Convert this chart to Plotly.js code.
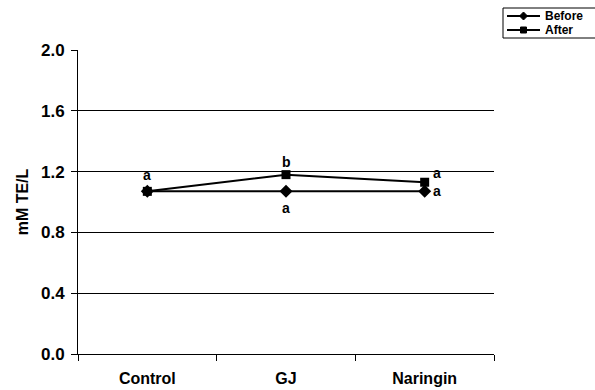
<!DOCTYPE html>
<html>
<head>
<meta charset="utf-8">
<script src="https://cdn.plot.ly/plotly-3.0.1.min.js"></script>
<style>html,body{margin:0;padding:0;background:#fff;}#chart{width:595px;height:390px;}</style>
</head>
<body>
<div id="chart"></div>
<script>
const categories = ["Control", "GJ", "Naringin"];
const seriesNames = ["Before", "After"];
const beforeValues = [1.07, 1.07, 1.07];
const afterValues = [1.07, 1.18, 1.13];
const yTicks = [0, 0.4, 0.8, 1.2, 1.6, 2.0];
const yTickLabels = ["0.0", "0.4", "0.8", "1.2", "1.6", "2.0"];
const letterLabels = [
  {cat: "Control", y: 1.07, text: "a", pos: "above"},
  {cat: "GJ", y: 1.18, text: "b", pos: "above"},
  {cat: "GJ", y: 1.07, text: "a", pos: "below"},
  {cat: "Naringin", y: 1.13, text: "a", pos: "rightup"},
  {cat: "Naringin", y: 1.07, text: "a", pos: "right"}
];

const FAM = "Liberation Sans, Arial, sans-serif";
const W = 595, H = 390;
const M = {l: 78, r: 101, t: 50, b: 36};
const PW = W - M.l - M.r, PH = H - M.t - M.b;
const px = v => (v - M.l) / PW;     // pixel x -> paper x
const py = v => (H - M.b - v) / PH; // pixel y -> paper y

const traces = [
  {x: categories, y: beforeValues, name: seriesNames[0], type: "scatter", mode: "lines+markers",
   line: {color: "#000", width: 2}, marker: {symbol: "diamond", size: 10, color: "#000"}, showlegend: false},
  {x: categories, y: afterValues, name: seriesNames[1], type: "scatter", mode: "lines+markers",
   line: {color: "#000", width: 2}, marker: {symbol: "square", size: 9, color: "#000"}, showlegend: false}
];

const annotations = letterLabels.map(l => {
  const a = {x: l.cat, y: l.y, xref: "x", yref: "y", text: "<b>" + l.text + "</b>", showarrow: false,
    font: {family: FAM, size: 14, color: "#000"}};
  if (l.pos === "above") { a.yanchor = "middle"; a.yshift = (l.cat === "GJ") ? 13 : 16; }
  else if (l.pos === "below") { a.yanchor = "middle"; a.yshift = -17; }
  else if (l.pos === "rightup") { a.xanchor = "left"; a.xshift = 6; a.yshift = 9; }
  else { a.xanchor = "left"; a.xshift = 6; a.yshift = 0; }
  return a;
});

// compact legend drawn as in the reference (box, sample lines, markers, labels)
const legRows = [16, 30];
const shapes = [
  {type: "rect", xref: "paper", yref: "paper", x0: px(503), x1: px(600), y0: py(8), y1: py(38),
   line: {color: "#000", width: 1}, fillcolor: "#fff", layer: "above"}
];
legRows.forEach((ry, i) => {
  shapes.push({type: "line", xref: "paper", yref: "paper", x0: px(507), x1: px(540), y0: py(ry), y1: py(ry),
    line: {color: "#000", width: 2}, layer: "above"});
  if (i === 0) {
    shapes.push({type: "path", xref: "paper", yref: "paper", layer: "above", fillcolor: "#000", line: {color: "#000", width: 1},
      path: `M ${px(523.5)} ${py(ry-4)} L ${px(527.5)} ${py(ry)} L ${px(523.5)} ${py(ry+4)} L ${px(519.5)} ${py(ry)} Z`});
  } else {
    shapes.push({type: "rect", xref: "paper", yref: "paper", layer: "above", fillcolor: "#000", line: {color: "#000", width: 1},
      x0: px(520.5), x1: px(526.5), y0: py(ry-3), y1: py(ry+3)});
  }
  annotations.push({xref: "paper", yref: "paper", x: px(543), y: py(ry), xanchor: "left", yanchor: "middle",
    text: "<b>" + seriesNames[i] + "</b>", showarrow: false, font: {family: FAM, size: 12, color: "#000"}});
});

const layout = {
  width: W, height: H,
  margin: M,
  paper_bgcolor: "#fff", plot_bgcolor: "#fff",
  font: {family: FAM, size: 14, color: "#000"},
  showlegend: false,
  xaxis: {type: "category", range: [-0.5, 2.5], showgrid: false, showline: true, linecolor: "#000", linewidth: 1,
    ticks: "outside", tickson: "boundaries", ticklen: 6, tickcolor: "#000",
    tickfont: {family: FAM, size: 16, color: "#000", weight: "bold"}, ticklabelstandoff: 10, zeroline: false},
  yaxis: {range: [0, 2.0], tickvals: yTicks, ticktext: yTickLabels, showgrid: true, gridcolor: "#000", gridwidth: 1,
    showline: true, linecolor: "#000", linewidth: 1, ticks: "outside", ticklen: 6, tickcolor: "#000",
    tickfont: {family: FAM, size: 17, color: "#000", weight: "bold"}, ticklabelstandoff: 3, zeroline: false,
    title: {text: "<b>mM TE/L</b>", font: {family: FAM, size: 16, color: "#000"}, standoff: 8}},
  annotations: annotations,
  shapes: shapes
};

Plotly.newPlot("chart", traces, layout, {displayModeBar: false, staticPlot: true});
</script>
</body>
</html>
